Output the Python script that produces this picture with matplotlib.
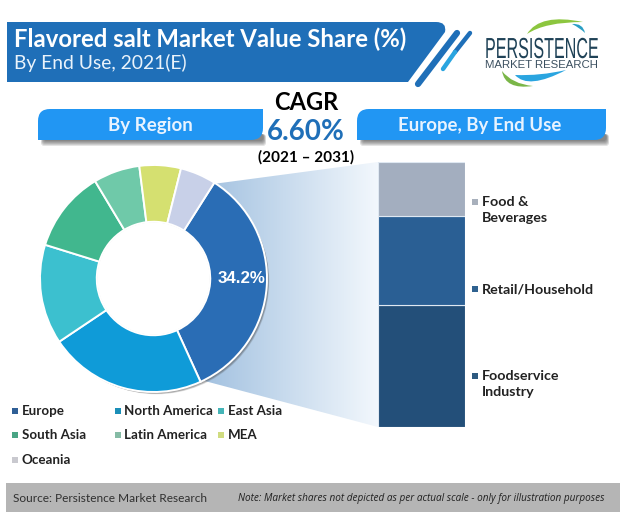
import matplotlib
matplotlib.use("Agg")
import numpy as np
import matplotlib.pyplot as plt
from matplotlib.patches import Circle, FancyBboxPatch, PathPatch, Polygon, Rectangle
from matplotlib.path import Path
from matplotlib.patheffects import AbstractPathEffect
from matplotlib.transforms import Affine2D

# data
regions = ["Europe", "North America", "East Asia", "South Asia", "Latin America", "MEA", "Oceania"]
region_share = [34.2, 22.4, 14.2, 11.6, 6.6, 5.9, 5.1]
region_colors = ["#2a6db5", "#0f9bd8", "#3cc0cf", "#41b78e", "#6fc9a9", "#d5e070", "#c8d0e8"]
legend_colors = ["#2f5f96", "#1b8fb8", "#45b5b8", "#4aa585", "#85bba5", "#d0dc80", "#c9c9cf"]

end_uses = ["Foodservice\nIndustry", "Retail/Household", "Food &\nBeverages"]
end_use_share = [46.0, 33.5, 20.5]
end_use_colors = ["#234f79", "#2a5f94", "#a3aebf"]
end_use_markers = ["#2d5a80", "#2f6290", "#a8b0bc"]

W, H = 620, 513
plt.rcParams["font.family"] = ["Lato", "DejaVu Sans"]


# stretches text upwards from its baseline, the logo lettering is very condensed
class StretchY(AbstractPathEffect):
    def __init__(self, factor):
        super().__init__()
        self.factor = factor

    def draw_path(self, renderer, gc, tpath, affine, rgbFace=None):
        base = affine.transform_point((0, 0))[1]
        extra = Affine2D().translate(0, -base).scale(1, self.factor).translate(0, base)
        renderer.draw_path(gc, tpath, affine + extra, rgbFace)


def fig_rect(x0, y0, x1, y1):
    # pixel box (top-left origin) to figure fractions
    return [x0 / W, 1 - y1 / H, (x1 - x0) / W, (y1 - y0) / H]


def tab(ax, x0, x1, y0, y1, r=12):
    for i in range(6):
        ax.add_patch(FancyBboxPatch((x0 + 3 + i * 0.5, y1 - 6), x1 - x0 - i, 6 + 6 - i,
                                    boxstyle="round,pad=0,rounding_size=3", fc="#303030", ec="none",
                                    alpha=0.13, zorder=2))
    verts = [(x0, y1), (x0, y0 + r), (x0, y0), (x0 + r, y0), (x1, y0), (x1, y1 - r), (x1, y1),
             (x1 - r, y1), (x0, y1), (x0, y1)]
    codes = [Path.MOVETO, Path.LINETO, Path.CURVE3, Path.CURVE3, Path.LINETO, Path.LINETO,
             Path.CURVE3, Path.CURVE3, Path.LINETO, Path.CLOSEPOLY]
    ax.add_patch(PathPatch(Path(verts, codes), fc="#2196f3", ec="none", zorder=3))


def crescent(ax, p0, c_out, p1, c_in, col):
    verts = [p0, c_out, p1, c_in, p0, p0]
    codes = [Path.MOVETO, Path.CURVE3, Path.CURVE3, Path.CURVE3, Path.CURVE3, Path.CLOSEPOLY]
    ax.add_patch(PathPatch(Path(verts, codes), fc=col, ec="none", zorder=2))


fig = plt.figure(figsize=(W / 100, H / 100), dpi=100, facecolor="white")
bg = fig.add_axes([0, 0, 1, 1])
bg.set_xlim(0, W)
bg.set_ylim(H, 0)
bg.axis("off")

# header banner
banner = [(7, 22), (436, 22), (447, 22), (445, 32), (408, 82), (7, 82), (7, 22)]
banner_codes = [Path.MOVETO, Path.LINETO, Path.CURVE3, Path.CURVE3, Path.LINETO, Path.LINETO, Path.CLOSEPOLY]
bg.add_patch(PathPatch(Path(banner, banner_codes), fc="#1f6fb8", ec="none", zorder=2))
bg.plot([418, 457], [84, 33], color="#1f6fb8", lw=4.5, solid_capstyle="round", zorder=3)
bg.plot([470, 455], [33, 52], color="#1f6fb8", lw=3.2, solid_capstyle="round", zorder=3)
bg.plot([455, 443], [52, 69], color="#2aa5e0", lw=3.2, solid_capstyle="round", zorder=3)
bg.text(14, 39.5, "Flavored salt Market Value Share (%)", color="white", fontsize=17.2, fontweight="bold",
        va="center", ha="left", zorder=4)
bg.text(14, 63, "By End Use, 2021(E)", color="#eaf3fb", fontsize=13.9, va="center", ha="left", zorder=4)

# logo
crescent(bg, (527, 34), (540, 13), (583, 22), (545, 22), "#8cc63f")
crescent(bg, (572, 24), (583, 23), (585, 33), (580, 28), "#2a9fc4")
crescent(bg, (502, 71), (505, 90), (533, 86), (512, 84), "#7ab648")
crescent(bg, (515, 75), (528, 90), (566, 70), (540, 76), "#2aa5e0")
logo = bg.text(485, 58, "PERSISTENCE", color="#1f4257", fontsize=11.6, ha="left", va="baseline",
               family=["Liberation Sans", "DejaVu Sans"], zorder=3)
logo.set_path_effects([StretchY(1.8)])
bg.text(485, 67.5, "MARKET RESEARCH", color="#3c5060", fontsize=8.2, ha="left", va="baseline",
        family=["Liberation Sans", "DejaVu Sans"], zorder=3)

# section tabs and CAGR
tab(bg, 38, 263, 109, 140)
tab(bg, 357, 606, 109, 140)
bg.text(150, 125, "By Region", color="#e8f3ff", fontsize=13.5, fontweight="bold", ha="center", va="center", zorder=4)
bg.text(480, 125, "Europe, By End Use", color="#e8f3ff", fontsize=13.4, fontweight="bold", ha="center", va="center", zorder=4)
bg.text(306, 103, "CAGR", color="black", fontsize=17, fontweight="bold", ha="center", va="center", zorder=4)
bg.text(306, 132, "6.60%", color="#1f6fb8", fontsize=20, fontweight="bold", ha="center", va="center", zorder=4)
bg.text(306, 157, "(2021 – 2031)", color="black", fontsize=11, fontweight="bold", ha="center", va="center", zorder=4)

# fade from the Europe slice across to the stacked bar
funnel = Polygon([(213, 184), (378, 162), (378, 427), (201, 380)], closed=True, transform=bg.transData, fc="none", ec="none")
bg.add_patch(funnel)
left, right = np.array([0.64, 0.76, 0.88]), np.array([0.95, 0.97, 0.99])
fade = np.linspace(0, 1, 100)[None, :, None]
img = bg.imshow(left + (right - left) * fade, extent=(205, 378, 430, 160), aspect="auto", zorder=1, interpolation="bilinear")
img.set_clip_path(funnel)
bg.set_xlim(0, W)
bg.set_ylim(H, 0)

# regional legend
legend_x = [15, 118, 221]
legend_y = [411, 435, 460]
for i, (name, col) in enumerate(zip(regions, legend_colors)):
    x = legend_x[i % 3]
    y = legend_y[i // 3]
    bg.add_patch(Rectangle((x - 3, y - 3), 6, 6, fc=col, ec="none", zorder=3))
    bg.text(x + 6.5, y, name, color="#222222", fontsize=9.6, fontweight="bold", ha="left", va="center", zorder=4)

# footer
bg.add_patch(Rectangle((6, 483), W - 6, 29, fc="#b5b5b5", ec="none", zorder=2))
bg.text(13, 498, "Source: Persistence Market Research", color="#303030", fontsize=8.6, ha="left", va="center", zorder=3)
bg.text(604, 498, "Note: Market shares not depicted as per actual scale - only for illustration purposes",
        color="#202020", fontsize=7.2, style="italic", ha="right", va="center", zorder=3,
        family=["Open Sans", "DejaVu Sans"])

# donut, centre (153.5, 278.5) radius 113.5 px
pad = 1.08
cx, cy, rad = 153.5, 278.5, 113.5
ax_pie = fig.add_axes(fig_rect(cx - rad * pad, cy - rad * pad, cx + rad * pad, cy + rad * pad))
ax_pie.patch.set_alpha(0)
for k in range(5):
    ax_pie.add_patch(Circle((0.012 + k * 0.004, -0.012 - k * 0.004), 1.0 - k * 0.002, fc="#404040", ec="none", alpha=0.12, zorder=0))
wedges, _ = ax_pie.pie(region_share, colors=region_colors, startangle=57.6, counterclock=False, radius=1.0,
                       wedgeprops=dict(width=0.5, edgecolor="white", linewidth=1.4))
ax_pie.add_patch(Circle((0, 0), 0.5, fc="white", ec="#d0d0d0", lw=0.8, zorder=0.5))
ax_pie.set_xlim(-pad, pad)
ax_pie.set_ylim(-pad, pad)
ax_pie.axis("off")
ax_pie.text(0.775, 0, f"{region_share[0]}%", color="white", fontsize=12.2, fontweight="bold", ha="center", va="center",
            family=["Liberation Sans", "DejaVu Sans"])

# stacked bar for Europe
ax_bar = fig.add_axes(fig_rect(378, 162, 465, 427))
ax_bar.set_xlim(0, 1)
ax_bar.set_ylim(0, sum(end_use_share))
ax_bar.axis("off")
bottom = 0
for share, col in zip(end_use_share, end_use_colors):
    ax_bar.bar(0.5, share, width=1.0, bottom=bottom, color=col, edgecolor="#dfe8f2", linewidth=0.8)
    bottom += share

# end use legend, marker sits on the first line of the label
end_use_y = [384, 289, 210.5]
marker_y = [375.5, 289, 202]
for name, col, y, my in zip(end_uses, end_use_markers, end_use_y, marker_y):
    bg.add_patch(Rectangle((472, my - 3), 6, 6, fc=col, ec="none", zorder=3))
    bg.text(482, y, name, color="#222222", fontsize=10.3, fontweight="bold", ha="left", va="center", linespacing=1.4, zorder=4)

fig.savefig("out.png", dpi=100)
